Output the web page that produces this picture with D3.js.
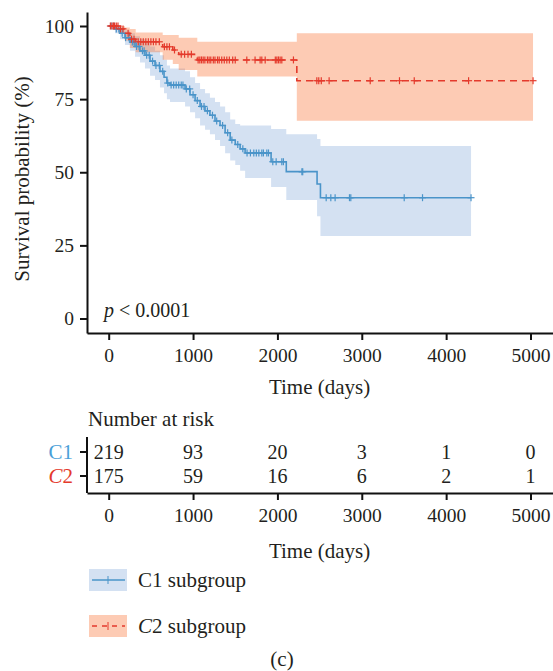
<!DOCTYPE html>
<html lang="en">
<head>
  <meta charset="utf-8">
  <title>Survival curves C1 / C2</title>
  <script src="https://cdnjs.cloudflare.com/ajax/libs/d3/7.8.5/d3.min.js"></script>
  <style type="text/css">
  body { margin: 0; background: #fff; }
  svg { display: block; }
  text { font-family: 'Liberation Serif', 'Times New Roman', serif; fill: #231f20; }
  .axis path, .axis line { stroke: #111; stroke-width: 2px; }
  .axis text { font-size: 19.5px; font-family: 'Liberation Serif', serif; fill: #231f20; }
  .word { font-size: 21px; }
  </style>
</head>
<body>
  <svg id="chart"></svg>
  <script type="text/javascript">
  // C1 subgroup (step times in days, survival %)
  var c1Time  = [0, 75, 134, 193, 253, 312, 371, 430, 490, 549, 608, 656, 690, 727, 905, 964, 1024, 1083, 1142, 1200, 1260, 1320, 1380, 1440, 1500, 1558, 1617, 1925, 2105, 2470, 2510];
  var c1Surv  = [100, 99, 97.5, 96, 94.5, 93, 91.5, 90, 88, 86.5, 84.5, 82.5, 80.5, 79.8, 78.5, 76.5, 74.5, 72.5, 71, 69.5, 67.5, 66, 63.5, 61, 59.5, 58, 56.6, 53.6, 50.2, 46, 41.3];
  var c1Upper = [100, 100, 99.5, 98.5, 97.5, 96.5, 95.5, 94.5, 93, 91.5, 90, 88.5, 86.5, 85.5, 84.5, 82.5, 80.5, 78.5, 77, 75.5, 74, 72.5, 70.5, 68, 66.5, 66, 66, 64.8, 63, 61.4, 59];
  var c1Lower = [100, 97.5, 95.5, 93.5, 91.5, 89.5, 87.5, 85.5, 83, 81.5, 79, 77, 75, 74, 72.5, 70.5, 68.5, 66, 64.5, 63, 61, 59, 56.5, 54, 52.5, 50.5, 48, 45, 40.5, 35, 28.2];
  var c1End = 4295;
  var c1Censor = [30, 60, 90, 120, 160, 200, 240, 280, 300, 330, 360, 400, 420, 450, 480, 520, 560, 600, 640, 700, 740, 770, 800, 830, 860, 880, 920, 960, 1000, 1050, 1100, 1130, 1170, 1230, 1280, 1350, 1410, 1460, 1530, 1590, 1640, 1680, 1720, 1750, 1780, 1815, 1834, 1874, 1894, 1945, 1985, 2052, 2071, 2290, 2300, 2578, 2633, 2684, 2854, 2870, 3503, 3720, 4295];

  // C2 subgroup
  var c2Time  = [0, 120, 190, 250, 320, 640, 760, 830, 1050, 2230];
  var c2Surv  = [100, 99, 97.5, 95.5, 94.6, 92.9, 91.8, 90.3, 88.4, 81.3];
  var c2Upper = [100, 100, 99.5, 99, 97.8, 96.9, 96.9, 96, 94.6, 97.5];
  var c2Lower = [100, 97.5, 95, 92.5, 91, 88.5, 87, 85, 82.7, 67.6];
  var c2End = 5030;
  var c2Censor = [20, 40, 55, 70, 90, 110, 140, 170, 230, 270, 300, 350, 380, 410, 440, 470, 500, 530, 560, 600, 660, 690, 720, 780, 860, 900, 940, 980, 1060, 1080, 1100, 1120, 1140, 1170, 1190, 1210, 1240, 1260, 1290, 1310, 1340, 1370, 1400, 1430, 1470, 1500, 1637, 1735, 1795, 1815, 1855, 1975, 1993, 2012, 2032, 2052, 2190, 2467, 2490, 2520, 2613, 3100, 3447, 3622, 4266, 5030];

  var xTicks = [0, 1000, 2000, 3000, 4000, 5000];
  var yTicks = [0, 25, 50, 75, 100];
  var riskTimes = [0, 1000, 2000, 3000, 4000, 5000];
  var riskC1 = [219, 93, 20, 3, 1, 0];
  var riskC2 = [175, 59, 16, 6, 2, 1];

  var w = 553, h = 671;
  var blue = "#4a94c9", red = "#e43a2c";

  var svg = d3.select("#chart").attr("width", w).attr("height", h);

  var x = d3.scaleLinear().domain([0, 5000]).range([108.7, 530.5]);
  var y = d3.scaleLinear().domain([0, 100]).range([318.5, 26]);

  function group(time, surv, upper, lower, end) {
    var pts = time.map(function(t, i) { return { t: t, s: surv[i], u: upper[i], l: lower[i] }; });
    var last = pts[pts.length - 1];
    pts.push({ t: end, s: last.s, u: last.u, l: last.l });
    return pts;
  }
  var g1 = group(c1Time, c1Surv, c1Upper, c1Lower, c1End);
  var g2 = group(c2Time, c2Surv, c2Upper, c2Lower, c2End);

  var band = d3.area().curve(d3.curveStepAfter)
    .x(function(d) { return x(d.t); })
    .y0(function(d) { return y(d.l); })
    .y1(function(d) { return y(d.u); });
  var step = d3.line().curve(d3.curveStepAfter)
    .x(function(d) { return x(d.t); })
    .y(function(d) { return y(d.s); });

  svg.append("path").datum(g1).attr("d", band).attr("fill", "rgb(112,155,212)").attr("fill-opacity", 0.3);
  svg.append("path").datum(g2).attr("d", band).attr("fill", "rgb(249,106,41)").attr("fill-opacity", 0.35);

  svg.append("path").datum(g1).attr("d", step).attr("fill", "none").attr("stroke", blue).attr("stroke-width", 1.6);
  svg.append("path").datum(g2).attr("d", step).attr("fill", "none").attr("stroke", red).attr("stroke-width", 1.6)
    .attr("stroke-dasharray", "7,5");

  // censoring marks
  function survAt(time, surv, t) { return surv[d3.bisectRight(time, t) - 1]; }
  function marks(cens, time, surv, col) {
    var gm = svg.append("g").attr("stroke", col).attr("stroke-width", 1.2);
    cens.forEach(function(t) {
      var cx = x(t), cy = y(survAt(time, surv, t));
      gm.append("line").attr("x1", cx - 3.5).attr("x2", cx + 3.5).attr("y1", cy).attr("y2", cy);
      gm.append("line").attr("x1", cx).attr("x2", cx).attr("y1", cy - 3.5).attr("y2", cy + 3.5);
    });
  }
  marks(c1Censor, c1Time, c1Surv, blue);
  marks(c2Censor, c2Time, c2Surv, red);

  // axes (domain lines run past the data range like the original)
  var xAx = x.copy().domain([x.invert(87), x.invert(553)]).range([87, 553]);
  var yAx = y.copy().domain([y.invert(333), y.invert(12)]).range([333, 12]);

  svg.append("g").attr("class", "axis").attr("transform", "translate(0,333)")
    .call(d3.axisBottom(xAx).tickValues(xTicks).tickFormat(d3.format("d")).tickSizeInner(7).tickSizeOuter(0).tickPadding(8));
  svg.append("g").attr("class", "axis").attr("transform", "translate(87,0)")
    .call(d3.axisLeft(yAx).tickValues(yTicks).tickSizeInner(7).tickSizeOuter(0).tickPadding(6));

  svg.append("text").attr("class", "word").attr("transform", "translate(29,179) rotate(-90)").attr("text-anchor", "middle")
    .text("Survival probability (%)");
  svg.append("text").attr("class", "word").attr("x", x(2500)).attr("y", 394).attr("text-anchor", "middle")
    .text("Time (days)");

  var pt = svg.append("text").attr("x", 104).attr("y", 317).style("font-size", "20px");
  pt.append("tspan").style("font-style", "italic").text("p");
  pt.append("tspan").text(" < 0.0001");

  // risk table
  svg.append("text").attr("class", "word").attr("x", 88).attr("y", 426).text("Number at risk");
  var rowY = [452, 476];
  var riskRows = [riskC1, riskC2];
  riskRows.forEach(function(row, r) {
    svg.append("g").selectAll("text").data(row).enter().append("text")
      .attr("x", function(d, i) { return x(riskTimes[i]); })
      .attr("y", rowY[r]).attr("dy", "0.35em").attr("text-anchor", "middle")
      .style("font-size", "20px").text(function(d) { return d; });
  });

  var riskY = svg.append("g").attr("class", "axis");
  riskY.append("line").attr("x1", 87).attr("x2", 87).attr("y1", 437).attr("y2", 493);
  rowY.forEach(function(yy) { riskY.append("line").attr("x1", 80).attr("x2", 87).attr("y1", yy).attr("y2", yy); });
  var lab1 = svg.append("text").attr("class", "word").attr("x", 73).attr("y", rowY[0]).attr("dy", "0.35em").attr("text-anchor", "end")
    .style("fill", "#4a9fd8");
  lab1.append("tspan").text("C1");
  var lab2 = svg.append("text").attr("class", "word").attr("x", 73).attr("y", rowY[1]).attr("dy", "0.35em").attr("text-anchor", "end")
    .style("fill", red);
  lab2.append("tspan").style("font-style", "italic").text("C");
  lab2.append("tspan").text("2");

  svg.append("g").attr("class", "axis").attr("transform", "translate(0,493)")
    .call(d3.axisBottom(xAx).tickValues(xTicks).tickFormat(d3.format("d")).tickSizeInner(7).tickSizeOuter(0).tickPadding(8));
  svg.append("text").attr("class", "word").attr("x", x(2500)).attr("y", 558).attr("text-anchor", "middle")
    .text("Time (days)");

  // legend
  var legend = [
    { name: "1 subgroup", col: blue, fill: "rgb(112,155,212)", op: 0.3, dash: null, italic: false },
    { name: "2 subgroup", col: red, fill: "rgb(249,106,41)", op: 0.35, dash: "5,5", italic: true }
  ];
  legend.forEach(function(d, i) {
    var ly = 569 + i * 46;
    var lg = svg.append("g");
    lg.append("rect").attr("x", 89).attr("y", ly).attr("width", 38).attr("height", 22)
      .attr("fill", d.fill).attr("fill-opacity", d.op);
    lg.append("line").attr("x1", 92).attr("x2", 125).attr("y1", ly + 11).attr("y2", ly + 11)
      .attr("stroke", d.col).attr("stroke-width", 1.6).attr("stroke-dasharray", d.dash);
    lg.append("line").attr("x1", 108).attr("x2", 108).attr("y1", ly + 7).attr("y2", ly + 15)
      .attr("stroke", d.col).attr("stroke-width", 1);
    var t = lg.append("text").attr("class", "word").attr("x", 138).attr("y", ly + 11).attr("dy", "0.35em");
    t.append("tspan").style("font-style", d.italic ? "italic" : "normal").text("C");
    t.append("tspan").text(d.name);
  });

  svg.append("text").attr("class", "word").attr("x", 282).attr("y", 666).attr("text-anchor", "middle")
    .text("(c)");
  </script>
</body>
</html>
